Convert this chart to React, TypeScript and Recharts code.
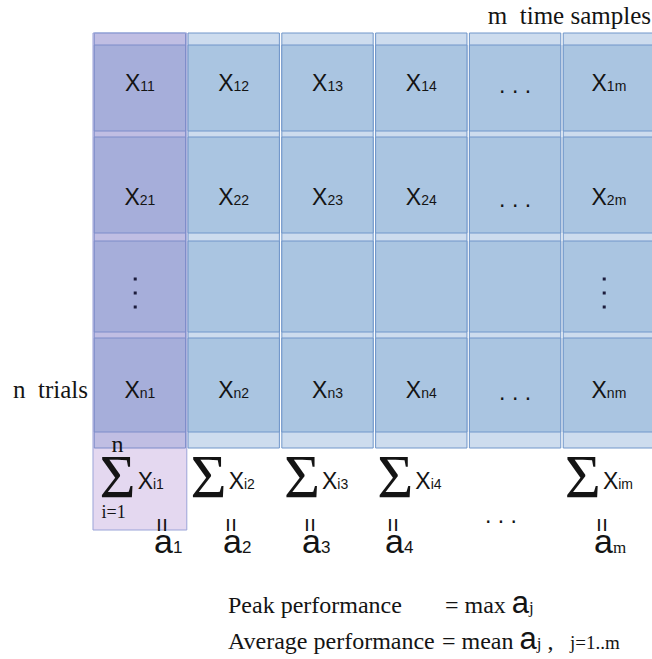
import React from 'react';
import { ScatterChart, Scatter, XAxis, YAxis, ReferenceArea } from 'recharts';

// Matrix content: column / row subscripts, column sums and their names
const colSubs = ['1', '2', '3', '4', '...', 'm'];
const rowSubs = ['1', '2', ':', 'n'];
const sumSubs = ['i1', 'i2', 'i3', 'i4', '...', 'im'];
const aSubs = ['1', '2', '3', '4', '...', 'm'];

// Layout in column / row units
const ROW_TOP = [0.12, 1.04, 2.08, 3.05];
const ROW_BOTTOM = [0.98, 2.0, 2.99, 3.99];
const ROW_TEXT = [0.58, 1.72, 2.6, 3.65];
const GRID_BOTTOM = 4.15;
const SUM_BOTTOM = 4.97;
const SUM_X = [0.07, 1.04, 2.035, 3.03, 4.35, 5.03];
const SUM_Y = 4.64;
const A_X = [0.746, 1.482, 2.324, 3.209, 4.35, 5.437];
const A_Y = 5.2;

const COLORS = {
  band: '#cddcee',
  cell: '#aac5e1',
  line: '#7096ca',
  purple: '#9f74c9',
  purpleLine: '#9aa3d8',
  text: '#141414'
};

const SANS = 'Liberation Sans, Arial, sans-serif';
const SERIF = 'Liberation Serif, Times New Roman, serif';
const NBSP2 = '\u00A0\u00A0';

const cellLabels: { x: number; y: number; kind: string; sub: string }[] = [];
rowSubs.forEach((r, ri) => {
  colSubs.forEach((c, ci) => {
    if (r === ':') {
      if (ci === 0 || ci === colSubs.length - 1) cellLabels.push({ x: ci + 0.45, y: ROW_TEXT[ri], kind: 'vdots', sub: '' });
    } else if (c === '...') {
      cellLabels.push({ x: ci + 0.5, y: ROW_TEXT[ri], kind: 'hdots', sub: '' });
    } else {
      cellLabels.push({ x: ci + 0.5, y: ROW_TEXT[ri], kind: 'x', sub: r + c });
    }
  });
});

const sumLabels = sumSubs
  .map((s, i) => ({ x: SUM_X[i], y: SUM_Y, sub: s, first: i === 0 }))
  .filter((d) => d.sub !== '...');

const aLabels = aSubs.map((s, i) => ({ x: A_X[i], y: A_Y, sub: s }));

const CellLabel = (props: any) => {
  const { cx, cy, payload } = props;
  if (payload.kind === 'vdots') {
    return (
      <g fill="#1c1c3c">
        {[-14, 0, 14].map((d) => (
          <rect key={d} x={cx - 1.5} y={cy + d - 1.5} width={3} height={3} />
        ))}
      </g>
    );
  }
  if (payload.kind === 'hdots') {
    return (
      <text x={cx} y={cy + 2} textAnchor="middle" fontFamily={SANS} fontSize={23} fill={COLORS.text}>
        {'.\u00A0.\u00A0.'}
      </text>
    );
  }
  return (
    <text x={cx} y={cy} textAnchor="middle" fontFamily={SANS} fontSize={23} fill={COLORS.text}>
      X<tspan fontSize={14}>{payload.sub}</tspan>
    </text>
  );
};

const SumLabel = (props: any) => {
  const { cx, cy, payload } = props;
  return (
    <g fill={COLORS.text}>
      {payload.first && (
        <>
          <text x={cx + 18} y={cy - 45} textAnchor="middle" fontFamily={SERIF} fontSize={24}>n</text>
          <text x={cx + 14} y={cy + 21} textAnchor="middle" fontFamily={SERIF} fontSize={18}>i=1</text>
        </>
      )}
      <text x={cx} y={cy}>
        <tspan fontFamily={SERIF} fontSize={62}>Σ</tspan>
        <tspan dx={2} dy={-8} fontFamily={SANS} fontSize={23}>X</tspan>
        <tspan fontFamily={SANS} fontSize={14}>{payload.sub}</tspan>
      </text>
    </g>
  );
};

const ALabel = (props: any) => {
  const { cx, cy, payload } = props;
  if (payload.sub === '...') {
    return (
      <text x={cx} y={cy - 30} textAnchor="middle" fontFamily={SANS} fontSize={23} fill={COLORS.text}>
        {'.\u00A0.\u00A0.'}
      </text>
    );
  }
  const isLetter = /[a-z]/.test(payload.sub);
  return (
    <g fill={COLORS.text}>
      <text
        x={cx}
        y={cy - 28}
        textAnchor="middle"
        dominantBaseline="central"
        fontFamily={SANS}
        fontSize={25}
        transform={`rotate(90 ${cx} ${cy - 28})`}
      >
        =
      </text>
      <text x={cx - 9} y={cy}>
        <tspan fontFamily={SANS} fontSize={34}>a</tspan>
        <tspan fontFamily={isLetter ? SERIF : SANS} fontSize={17}>{payload.sub}</tspan>
      </text>
    </g>
  );
};

export default function App() {
  return (
    <div style={{ position: 'absolute', left: 0, top: 0, width: 652, height: 659, background: '#fff' }}>
      <ScatterChart width={652} height={659} margin={{ top: 0, right: 0, bottom: 0, left: 0 }}>
        <XAxis type="number" dataKey="x" domain={[-0.99147, 5.95949]} hide allowDataOverflow />
        <YAxis type="number" dataKey="y" domain={[-0.33, 6.26]} reversed hide allowDataOverflow />

        {colSubs.map((c, ci) => (
          <ReferenceArea
            key={`band-${ci}`}
            x1={ci + 0.013}
            x2={ci + 0.987}
            y1={0}
            y2={GRID_BOTTOM}
            fill={COLORS.band}
            fillOpacity={1}
            stroke={COLORS.line}
            strokeWidth={1}
            ifOverflow="hidden"
          />
        ))}
        {rowSubs.map((r, ri) =>
          colSubs.map((c, ci) => (
            <ReferenceArea
              key={`cell-${ri}-${ci}`}
              x1={ci + 0.013}
              x2={ci + 0.987}
              y1={ROW_TOP[ri]}
              y2={ROW_BOTTOM[ri]}
              fill={COLORS.cell}
              fillOpacity={1}
              stroke={COLORS.line}
              strokeWidth={1}
              ifOverflow="hidden"
            />
          ))
        )}
        <ReferenceArea
          x1={0}
          x2={1}
          y1={0}
          y2={SUM_BOTTOM}
          fill={COLORS.purple}
          fillOpacity={0.28}
          stroke={COLORS.purpleLine}
          strokeWidth={1}
          ifOverflow="hidden"
        />

        <Scatter data={cellLabels} shape={(p: any) => <CellLabel {...p} />} isAnimationActive={false} />
        <Scatter data={sumLabels} shape={(p: any) => <SumLabel {...p} />} isAnimationActive={false} />
        <Scatter data={aLabels} shape={(p: any) => <ALabel {...p} />} isAnimationActive={false} />
      </ScatterChart>

      <svg width={652} height={659} style={{ position: 'absolute', left: 0, top: 0, pointerEvents: 'none' }}>
        <g fill={COLORS.text} fontFamily={SERIF}>
          <text x={651} y={24} textAnchor="end" fontSize={25}>{`m${NBSP2}time samples`}</text>
          <text x={13} y={398} fontSize={25}>{`n${NBSP2}trials`}</text>
          <text y={613} fontSize={24}>
            <tspan x={228}>Peak performance</tspan>
            <tspan x={445}>{'=\u00A0max\u00A0'}</tspan>
            <tspan fontFamily={SANS} fontSize={31}>a</tspan>
            <tspan fontSize={17}>j</tspan>
          </text>
          <text y={649} fontSize={24}>
            <tspan x={228}>Average performance</tspan>
            <tspan x={442}>{'=\u00A0mean\u00A0'}</tspan>
            <tspan fontFamily={SANS} fontSize={31}>a</tspan>
            <tspan fontSize={17}>j</tspan>
            <tspan fontSize={24}>{'\u00A0,'}</tspan>
            <tspan x={570} fontSize={19}>j=1..m</tspan>
          </text>
        </g>
      </svg>
    </div>
  );
}
